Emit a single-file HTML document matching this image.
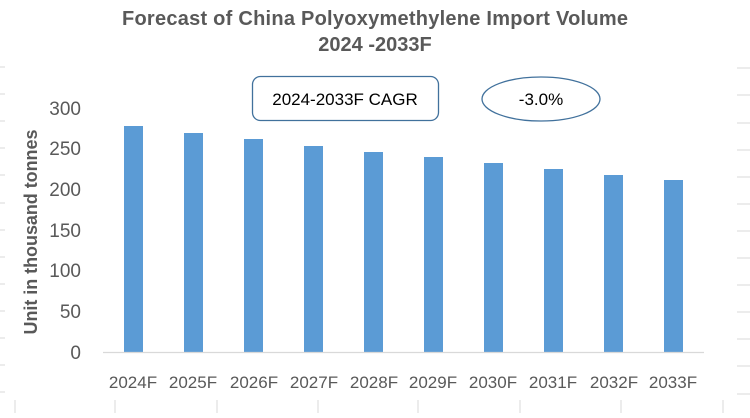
<!DOCTYPE html>
<html><head><meta charset="utf-8"><style>body{margin:0;background:#fff}</style></head><body>
<svg width="750" height="413" xmlns="http://www.w3.org/2000/svg" font-family="Liberation Sans, sans-serif">
<g stroke="#d9d9d9" stroke-width="1">
<line x1="737" x2="750" y1="68" y2="68"/><line x1="737" x2="750" y1="95" y2="95"/><line x1="737" x2="750" y1="123" y2="123"/><line x1="737" x2="750" y1="150" y2="150"/><line x1="737" x2="750" y1="177" y2="177"/><line x1="737" x2="750" y1="204" y2="204"/><line x1="737" x2="750" y1="231" y2="231"/><line x1="737" x2="750" y1="258" y2="258"/><line x1="737" x2="750" y1="285" y2="285"/><line x1="737" x2="750" y1="312" y2="312"/><line x1="737" x2="750" y1="339" y2="339"/><line x1="737" x2="750" y1="366" y2="366"/><line x1="737" x2="750" y1="394" y2="394"/>
<line x1="0" x2="5" y1="67" y2="67"/><line x1="0" x2="5" y1="94" y2="94"/><line x1="0" x2="5" y1="121" y2="121"/><line x1="0" x2="5" y1="148" y2="148"/><line x1="0" x2="5" y1="175" y2="175"/><line x1="0" x2="5" y1="203" y2="203"/><line x1="0" x2="5" y1="230" y2="230"/><line x1="0" x2="5" y1="257" y2="257"/><line x1="0" x2="5" y1="284" y2="284"/><line x1="0" x2="5" y1="311" y2="311"/><line x1="0" x2="5" y1="338" y2="338"/><line x1="0" x2="5" y1="365" y2="365"/><line x1="0" x2="5" y1="392" y2="392"/>
<line x1="15" x2="15" y1="400" y2="413"/><line x1="115" x2="115" y1="400" y2="413"/><line x1="217" x2="217" y1="400" y2="413"/><line x1="318" x2="318" y1="400" y2="413"/><line x1="418" x2="418" y1="400" y2="413"/><line x1="520" x2="520" y1="400" y2="413"/><line x1="621" x2="621" y1="400" y2="413"/><line x1="723" x2="723" y1="400" y2="413"/>
</g>
<text x="375" y="25" text-anchor="middle" font-size="20" font-weight="bold" fill="#595959" textLength="506">Forecast of China Polyoxymethylene Import Volume</text>
<text x="375" y="51" text-anchor="middle" font-size="20" font-weight="bold" fill="#595959">2024 -2033F</text>
<rect x="252.5" y="76.5" width="186" height="44" rx="8" fill="#fff" stroke="#41719c" stroke-width="1.3"/>
<text x="345" y="105" text-anchor="middle" font-size="17" fill="#000">2024-2033F CAGR</text>
<ellipse cx="541" cy="99" rx="59" ry="22" fill="#fff" stroke="#41719c" stroke-width="1.3"/>
<text x="541" y="105" text-anchor="middle" font-size="17" fill="#000">-3.0%</text>
<g font-size="19" fill="#595959" text-anchor="end">
<text x="81" y="115">300</text><text x="81" y="155">250</text><text x="81" y="196">200</text><text x="81" y="237">150</text><text x="81" y="277">100</text><text x="81" y="318">50</text><text x="81" y="359">0</text>
</g>
<text transform="translate(37,232) rotate(-90)" text-anchor="middle" font-size="18" font-weight="bold" fill="#595959" textLength="205">Unit in thousand tonnes</text>
<g fill="#5b9bd5">
<rect x="124" y="126" width="19" height="226"/><rect x="184" y="133" width="19" height="219"/><rect x="244" y="139" width="19" height="213"/><rect x="304" y="146" width="19" height="206"/><rect x="364" y="152" width="19" height="200"/><rect x="424" y="157" width="19" height="195"/><rect x="484" y="163" width="19" height="189"/><rect x="544" y="169" width="19" height="183"/><rect x="604" y="175" width="19" height="177"/><rect x="664" y="180" width="19" height="172"/>
</g>
<line x1="103" x2="704" y1="352.5" y2="352.5" stroke="#d9d9d9" stroke-width="1.3"/>
<g font-size="17" fill="#595959" text-anchor="middle">
<text x="133" y="388">2024F</text><text x="193" y="388">2025F</text><text x="254" y="388">2026F</text><text x="314" y="388">2027F</text><text x="374" y="388">2028F</text><text x="433" y="388">2029F</text><text x="493" y="388">2030F</text><text x="553" y="388">2031F</text><text x="614" y="388">2032F</text><text x="673" y="388">2033F</text>
</g>
</svg>
</body></html>
